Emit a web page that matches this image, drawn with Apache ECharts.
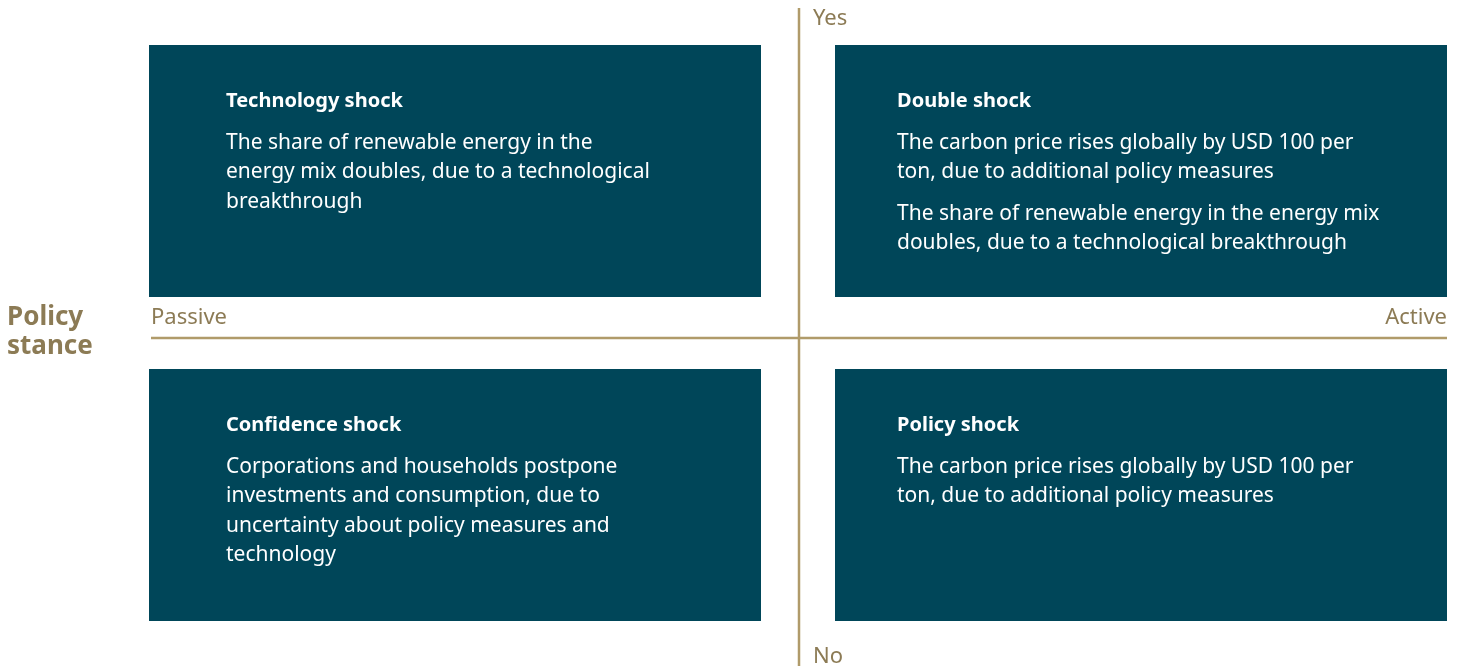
<!DOCTYPE html>
<html>
<head>
<meta charset="utf-8">
<script src="https://cdn.jsdelivr.net/npm/echarts@6/dist/echarts.min.js"></script>
<style>html,body{margin:0;padding:0;background:#fff}#c{width:1461px;height:666px}</style>
</head>
<body>
<div id="c"></div>
<script>
// Data
const xCategories = ['Passive', 'Active'];
const yCategories = ['No', 'Yes'];
const titles = ['Technology shock', 'Double shock', 'Confidence shock', 'Policy shock'];
const cellX = ['Passive', 'Active', 'Passive', 'Active'];
const cellY = ['Yes', 'Yes', 'No', 'No'];
const bodies = [
  ['The share of renewable energy in the\nenergy mix doubles, due to a technological\nbreakthrough'],
  ['The carbon price rises globally by USD 100 per\nton, due to additional policy measures',
   'The share of renewable energy in the energy mix\ndoubles, due to a technological breakthrough'],
  ['Corporations and households postpone\ninvestments and consumption, due to\nuncertainty about policy measures and\ntechnology'],
  ['The carbon price rises globally by USD 100 per\nton, due to additional policy measures']
];
const axisTitle = 'Policy\nstance';

const BOX = '#004659';
const GOLD = '#B09B6A';
const GOLDTXT = '#8C7B55';
const FONT = '"Noto Sans", sans-serif';

const chart = echarts.init(document.getElementById('c'));

function renderCell(params, api) {
  const xi = api.value(0), yi = api.value(1);
  const c = api.coord([xi, yi]);
  const s = api.size([1, 1]);
  const gx = 37, gy = 36;
  let x0 = c[0] - s[0] / 2, x1 = c[0] + s[0] / 2;
  let y0 = c[1] - s[1] / 2, y1 = c[1] + s[1] / 2;
  if (xi === 0) x1 -= gx; else x0 += gx;
  if (yi === 1) y1 -= gy; else y0 += gy;
  const idx = params.dataIndex;
  const padX = xi === 0 ? 77 : 62;
  const children = [{
    type: 'rect',
    shape: { x: x0, y: y0, width: x1 - x0, height: y1 - y0 },
    style: { fill: BOX }
  }, {
    type: 'text',
    style: {
      x: x0 + padX, y: y0 + 56, text: titles[idx],
      fill: '#fff', font: 'bold 20px ' + FONT, verticalAlign: 'middle'
    }
  }];
  let ty = y0 + 98;
  bodies[idx].forEach(function (p) {
    const n = p.split('\n').length;
    children.push({
      type: 'text',
      style: {
        x: x0 + padX, y: ty - 14.75, text: p, fill: '#fff',
        font: '21px ' + FONT, lineHeight: 29.5, verticalAlign: 'top'
      }
    });
    ty += n * 29.5 + 12;
  });
  return { type: 'group', children: children };
}

chart.setOption({
  animation: false,
  grid: { left: 149, right: 14, top: 45, bottom: 45 },
  xAxis: { type: 'category', data: xCategories, show: false },
  yAxis: { type: 'category', data: yCategories, show: false },
  series: [{
    type: 'custom',
    renderItem: renderCell,
    data: titles.map(function (t, i) {
      return [xCategories.indexOf(cellX[i]), yCategories.indexOf(cellY[i])];
    })
  }],
  graphic: [
    { type: 'line', shape: { x1: 799, y1: 8, x2: 799, y2: 666 }, style: { stroke: GOLD, lineWidth: 2.5 } },
    { type: 'line', shape: { x1: 151, y1: 338, x2: 1447, y2: 338 }, style: { stroke: GOLD, lineWidth: 2.5 } },
    { type: 'text', style: { x: 813, y: 19, text: yCategories[1], fill: GOLDTXT, font: '22px ' + FONT, verticalAlign: 'middle' } },
    { type: 'text', style: { x: 813, y: 657, text: yCategories[0], fill: GOLDTXT, font: '22px ' + FONT, verticalAlign: 'middle' } },
    { type: 'text', style: { x: 151, y: 318, text: xCategories[0], fill: GOLDTXT, font: '22px ' + FONT, verticalAlign: 'middle' } },
    { type: 'text', style: { x: 1447, y: 318, text: xCategories[1], fill: GOLDTXT, font: '22px ' + FONT, verticalAlign: 'middle', align: 'right' } },
    { type: 'text', style: { x: 7, y: 332, text: axisTitle, fill: GOLDTXT, font: 'bold 26px ' + FONT, lineHeight: 29, verticalAlign: 'middle' } }
  ]
});
</script>
</body>
</html>
